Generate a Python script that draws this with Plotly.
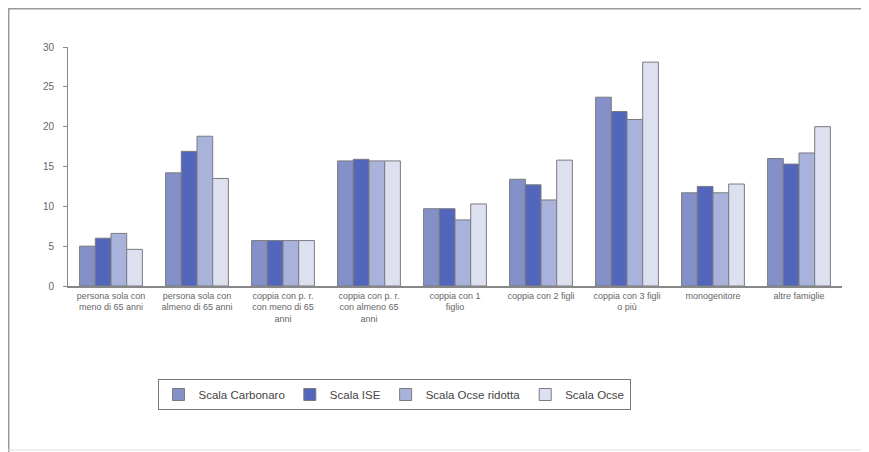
import plotly.graph_objects as go

categories = [
    "persona sola con<br>meno di 65 anni",
    "persona sola con<br>almeno di 65 anni",
    "coppia con p. r.<br>con meno di 65<br>anni",
    "coppia con p. r.<br>con almeno 65<br>anni",
    "coppia con 1<br>figlio",
    "coppia con 2 figli",
    "coppia con 3 figli<br>o più",
    "monogenitore",
    "altre famiglie",
]
series_names = ["Scala Carbonaro", "Scala ISE", "Scala Ocse ridotta", "Scala Ocse"]
carbonaro = [5.0, 14.2, 5.7, 15.7, 9.7, 13.4, 23.7, 11.7, 16.0]
ise = [6.0, 16.9, 5.7, 15.9, 9.7, 12.7, 21.9, 12.5, 15.3]
ocse_ridotta = [6.6, 18.8, 5.7, 15.7, 8.3, 10.8, 20.9, 11.7, 16.7]
ocse = [4.6, 13.5, 5.7, 15.7, 10.3, 15.8, 28.1, 12.8, 20.0]
y_ticks = [0, 5, 10, 15, 20, 25, 30]

colors = ["#8490c8", "#5266bb", "#a9b2da", "#dde0ef"]
values = [carbonaro, ise, ocse_ridotta, ocse]

fig = go.Figure()
for name, vals, col in zip(series_names, values, colors):
    fig.add_trace(go.Bar(
        x=categories, y=vals, name=name,
        marker=dict(color=col, line=dict(color="#7a7a80", width=1)),
    ))

# page body has an 8px margin; figure origin sits at (8, 8) of the window
OFF = 8
W, H = 869 - OFF, 452 - OFF
l, r, t, b = 68 - OFF, 869 - 842, 47 - OFF, 452 - 286
pw, ph = W - l - r, H - t - b

def px(x):
    return (x - OFF - l) / pw

def py(y):
    return (H - b - (y - OFF)) / ph

fig.update_layout(
    width=W, height=H,
    margin=dict(l=l, r=r, t=t, b=b),
    paper_bgcolor="white", plot_bgcolor="white",
    font=dict(family="Liberation Sans, Arial, sans-serif", color="#555"),
    barmode="group", bargap=0.27, bargroupgap=0,
    showlegend=True,
    legend=dict(
        orientation="h", x=px(394), xanchor="center", y=py(379), yanchor="top",
        bordercolor="#777", borderwidth=1, font=dict(size=11.5, color="#444"),
        itemwidth=30, tracegroupgap=0,
    ),
    xaxis=dict(
        showline=True, linecolor="#888", linewidth=1.5, tickfont=dict(size=9, color="#666"),
        ticks="", showgrid=False, tickangle=0,
    ),
    yaxis=dict(
        range=[0, 30], tickvals=y_ticks, showline=True, linecolor="#888", linewidth=1,
        ticks="outside", ticklen=4, tickcolor="#888", showgrid=False,
        tickfont=dict(size=10, color="#666"), zeroline=False, ticklabelstandoff=7,
    ),
    shapes=[
        dict(type="line", xref="paper", yref="paper", x0=px(8.7), x1=px(8.7), y0=py(452), y1=py(8.7),
             line=dict(color="#999", width=1.5)),
        dict(type="line", xref="paper", yref="paper", x0=px(8), x1=px(869), y0=py(8.7), y1=py(8.7),
             line=dict(color="#999", width=1.5)),
        dict(type="line", xref="paper", yref="paper", x0=px(8), x1=px(869), y0=py(450), y1=py(450),
             line=dict(color="#ddd", width=1)),
    ],
)

fig.write_html("out.html")
